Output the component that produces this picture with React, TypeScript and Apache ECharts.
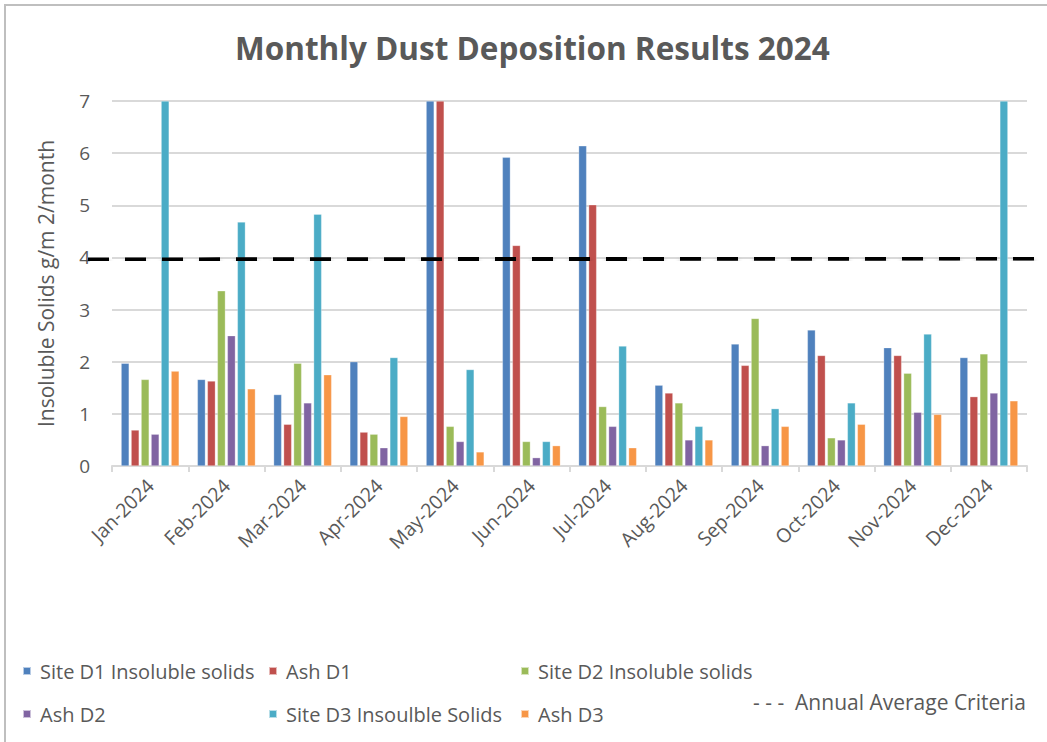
import React, { useEffect, useRef } from "react";
import * as echarts from "echarts";

const months = ["Jan-2024", "Feb-2024", "Mar-2024", "Apr-2024", "May-2024", "Jun-2024", "Jul-2024", "Aug-2024", "Sep-2024", "Oct-2024", "Nov-2024", "Dec-2024"];
const siteD1 = [1.97, 1.66, 1.37, 2.0, 7.0, 5.92, 6.14, 1.55, 2.34, 2.61, 2.27, 2.08];
const ashD1 = [0.69, 1.63, 0.8, 0.65, 7.0, 4.23, 5.01, 1.4, 1.93, 2.12, 2.12, 1.33];
const siteD2 = [1.66, 3.36, 1.97, 0.61, 0.76, 0.47, 1.14, 1.21, 2.83, 0.54, 1.78, 2.15];
const ashD2 = [0.61, 2.5, 1.21, 0.35, 0.47, 0.16, 0.76, 0.5, 0.39, 0.5, 1.03, 1.4];
const siteD3 = [7.0, 4.68, 4.83, 2.08, 1.85, 0.47, 2.3, 0.76, 1.1, 1.21, 2.53, 7.0];
const ashD3 = [1.82, 1.48, 1.75, 0.95, 0.27, 0.39, 0.35, 0.5, 0.76, 0.8, 0.99, 1.25];
const criteria = [3.96, 3.98];
const yTicks = [0, 1, 2, 3, 4, 5, 6, 7];

const seriesNames = ["Site D1 Insoluble solids", "Ash D1", "Site D2 Insoluble solids", "Ash D2", "Site D3 Insoulble Solids", "Ash D3"];
const seriesData = [siteD1, ashD1, siteD2, ashD2, siteD3, ashD3];
const colors = ["#4F81BD", "#C0504D", "#9BBB59", "#8064A2", "#4BACC6", "#F79646"];
const criteriaName = "Annual Average Criteria";

const FONT = "Open Sans";
const GREY = "#595959";

const legendPos = [
  { left: 17, top: 656 },
  { left: 263, top: 656 },
  { left: 515, top: 656 },
  { left: 17, top: 699 },
  { left: 263, top: 699 },
  { left: 515, top: 699 },
];

export default function App() {
  const ref = useRef<HTMLDivElement>(null);
  useEffect(() => {
    if (!ref.current) return;
    const chart = echarts.init(ref.current, null, { renderer: "svg" });
    const legends: any[] = seriesNames.map((n, i) => ({
      data: [n],
      left: legendPos[i].left,
      top: legendPos[i].top,
      icon: "rect",
      itemWidth: 8,
      itemHeight: 8,
      selectedMode: false,
      textStyle: { fontFamily: FONT, fontSize: 20, color: GREY, padding: [0, 0, 0, 4] },
    }));
    legends.push({
      data: [{ name: criteriaName, icon: "none" }],
      left: 743,
      top: 686,
      itemWidth: 0,
      itemHeight: 8,
      selectedMode: false,
      formatter: "- - -  {name}",
      textStyle: { fontFamily: FONT, fontSize: 21, color: GREY },
    });
    chart.setOption({
      animation: false,
      backgroundColor: "#ffffff",
      title: {
        text: "Monthly Dust Deposition Results 2024",
        left: 230,
        top: 26,
        textStyle: { fontFamily: FONT, fontSize: 31.5, fontWeight: "bold", color: GREY },
      },
      legend: legends,
      grid: [
        { left: 112, right: 20, top: 101, bottom: 276, containLabel: false },
        { left: 88, right: 7, top: 101, bottom: 276, containLabel: false },
      ],
      xAxis: [
        {
          type: "category",
          data: months,
          gridIndex: 0,
          axisLine: { lineStyle: { color: "#D9D9D9", width: 2 } },
          axisTick: { show: true, length: 6, lineStyle: { color: "#D9D9D9", width: 2 } },
          axisLabel: { rotate: 45, fontFamily: FONT, fontSize: 19.5, color: GREY, margin: 16 },
        },
        { type: "value", gridIndex: 1, min: 0, max: 1, show: false },
      ],
      yAxis: [
        {
          type: "value",
          gridIndex: 0,
          min: yTicks[0],
          max: yTicks[yTicks.length - 1],
          interval: 1,
          name: "Insoluble Solids g/m 2/month",
          nameLocation: "middle",
          nameRotate: 90,
          nameGap: 56,
          nameTextStyle: { fontFamily: FONT, fontSize: 21, color: GREY },
          axisLine: { show: false },
          axisTick: { show: false },
          axisLabel: { fontFamily: FONT, fontSize: 19, color: GREY, margin: 22 },
          splitLine: { lineStyle: { color: "#D9D9D9", width: 2 } },
        },
        { type: "value", gridIndex: 1, min: 0, max: 7, show: false },
      ],
      series: [
        ...seriesNames.map((n, i) => ({
          name: n,
          type: "bar",
          xAxisIndex: 0,
          yAxisIndex: 0,
          data: seriesData[i],
          barWidth: 8,
          barGap: "25%",
          itemStyle: { color: colors[i], borderColor: "rgba(255,255,255,0.6)", borderWidth: 0.5 },
        })),
        {
          name: criteriaName,
          type: "line",
          xAxisIndex: 1,
          yAxisIndex: 1,
          data: [
            [0, criteria[0]],
            [1, criteria[1]],
          ],
          symbol: "none",
          z: 5,
          lineStyle: {
            color: "#000000",
            width: 4,
            type: [21, 16],
            shadowColor: "rgba(0,0,0,0.45)",
            shadowBlur: 5,
            shadowOffsetY: 4,
          },
        },
      ],
      graphic: [
        {
          type: "rect",
          shape: { x: 5, y: 5, width: 1200, height: 900 },
          style: { fill: "none", stroke: "#BFBFBF", lineWidth: 2 },
          silent: true,
        },
      ],
    });
    return () => chart.dispose();
  }, []);
  return <div ref={ref} style={{ position: "fixed", left: 0, top: 0, width: 1047, height: 742 }} />;
}
